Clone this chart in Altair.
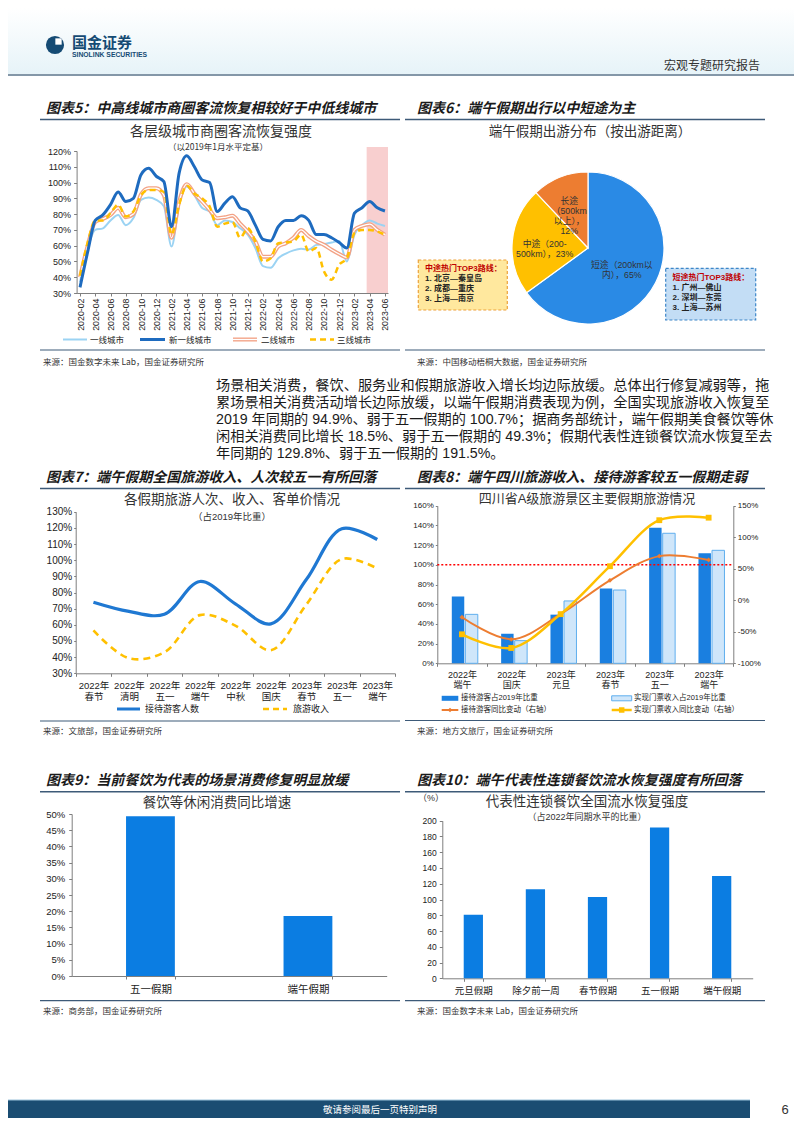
import altair as alt
import pandas as pd

W, H = 786, 1110
MARGIN = 8
CN = "Noto Sans CJK SC"
MIX = "Liberation Sans, Noto Sans CJK SC"
INK = "#222222"
AXC = "#7F7F7F"
RULEC = "#3D5A78"

# ---------------- data ----------------
# Chart 5
months = ["2020-02", "2020-03", "2020-04", "2020-05", "2020-06", "2020-07", "2020-08", "2020-09",
          "2020-10", "2020-11", "2020-12", "2021-01", "2021-02", "2021-03", "2021-04", "2021-05",
          "2021-06", "2021-07", "2021-08", "2021-09", "2021-10", "2021-11", "2021-12", "2022-01",
          "2022-02", "2022-03", "2022-04", "2022-05", "2022-06", "2022-07", "2022-08", "2022-09",
          "2022-10", "2022-11", "2022-12", "2023-01", "2023-02", "2023-03", "2023-04", "2023-05",
          "2023-06"]
tier1 = [37, 58, 70, 71, 76, 79.5, 73, 77.5, 89, 90.5, 89, 85, 59.5, 86, 97.5, 92, 84, 81.6, 73, 76,
         75, 71, 67, 58.5, 47, 46, 52, 55, 57, 58, 57.5, 60.5, 61, 62, 63, 50, 67, 73, 76, 74, 72.5]
new_tier1 = [33.6, 56, 76, 79.5, 86, 94, 88, 90, 105, 109, 104, 100.6, 72, 106, 117, 110, 101.7, 100,
             81.6, 87, 91, 84, 82, 73, 64, 63, 72, 76, 76, 79, 76, 67, 67, 65, 62, 58.5, 80.6, 84, 88,
             84, 82]
tier2 = [40, 60, 75, 77, 79.5, 84, 78, 80, 92.5, 96.4, 96.4, 92, 65, 88, 99, 93, 88, 82.7, 77.4, 78,
         79, 74, 69, 62.7, 53, 53, 59.5, 61.6, 65, 70, 66, 62.7, 60.5, 57.4, 54.7, 52.5, 70, 72.5,
         73.6, 70, 67]
tier3 = [41, 62, 76, 76, 80.6, 86, 78.5, 81.6, 92, 95.3, 95.3, 94, 67, 86, 98, 93, 90, 85, 72, 74, 75,
         65, 71, 62.7, 50, 52, 61.6, 62, 62.7, 67, 56.3, 58.5, 43.7, 38.4, 48, 52, 68, 70, 70, 69, 67]
shade_from, shade_to = 37.6, 40.4          # month-index span of the 2023 Q2 highlight
shade_low, shade_high = 30, 122.5

# Chart 6
dist_cat = ["短途", "中途", "长途"]
dist_share = [65, 23, 12]
dist_label = ["短途（200km以\n内），65%", "中途（200-\n500km），23%", "长途\n（500km\n以上），\n12%"]
mid_routes = ["中途热门TOP3路线：", "1. 北京—秦皇岛", "2. 成都—重庆", "3. 上海—南京"]
short_routes = ["短途热门TOP3路线：", "1. 广州—佛山", "2. 深圳—东莞", "3. 上海—苏州"]

# Paragraph
para = ["场景相关消费，餐饮、服务业和假期旅游收入增长均边际放缓。总体出行修复减弱等，拖",
        "累场景相关消费活动增长边际放缓，以端午假期消费表现为例，全国实现旅游收入恢复至",
        "2019 年同期的 94.9%、弱于五一假期的 100.7%；据商务部统计，端午假期美食餐饮等休",
        "闲相关消费同比增长 18.5%、弱于五一假期的 49.3%；假期代表性连锁餐饮流水恢复至去",
        "年同期的 129.8%、弱于五一假期的 191.5%。"]

# Chart 7
holidays7 = ["2022年春节", "2022年清明", "2022年五一", "2022年端午", "2022年中秋", "2022年国庆",
             "2023年春节", "2023年五一", "2023年端午"]
visitors7 = [74.0, 68.3, 66.5, 86.8, 73.0, 60.6, 88.0, 119.5, 112.8]
revenue7 = [56.5, 39.3, 43.0, 66.0, 59.5, 44.3, 72.5, 100.7, 94.9]

# Chart 8
holidays8 = ["2022年端午", "2022年国庆", "2023年元旦", "2023年春节", "2023年五一", "2023年端午"]
series8 = ["接待游客占2019年比重", "实现门票收入占2019年比重"]
visitors_share8 = [67.7, 30.0, 49.4, 76.0, 137.7, 111.6]
ticket_share8 = [49.7, 23.0, 63.3, 74.4, 132.0, 114.7]
visitors_yoy8 = [-27, -62, -22, 31.6, 70, 64]
ticket_yoy8 = [-54, -75.7, -22, 54, 127, 131]
ref_level8 = [100]

# Chart 9
cats9 = ["五一假期", "端午假期"]
vals9 = [49.3, 18.5]

# Chart 10
cats10 = ["元旦假期", "除夕前一周", "春节假期", "五一假期", "端午假期"]
vals10 = [80.8, 112.9, 103.2, 191.5, 129.8]


# ---------------- helpers ----------------
def P(v):
    return v - MARGIN


ONE = pd.DataFrame({"k": [0]})


def T(s, x, y, size=9.0, color=INK, align="left", bold=False, italic=False, font=CN, lh=None):
    kw = dict(align=align, baseline="middle", fontSize=size, color=color, font=font)
    if bold:
        kw["fontWeight"] = "bold"
    if italic:
        kw["fontStyle"] = "italic"
    if "\n" in s:
        kw["lineBreak"] = "\n"
        kw["lineHeight"] = lh or size * 1.2
    return alt.Chart(pd.DataFrame({"t": [s]})).mark_text(**kw).encode(
        x=alt.value(P(x)), y=alt.value(P(y)), text="t:N")


def R(x1, x2, y, color, w=1.0, dash=None):
    kw = dict(color=color, strokeWidth=w)
    if dash:
        kw["strokeDash"] = dash
    return alt.Chart(ONE).mark_rule(**kw).encode(
        x=alt.value(P(x1)), x2=alt.value(P(x2)), y=alt.value(P(y)))


def B(x1, y1, x2, y2, fill, stroke=None, dash=None, w=1.0):
    kw = dict(fill=fill)
    if stroke:
        kw["stroke"] = stroke
        kw["strokeWidth"] = w
    if dash:
        kw["strokeDash"] = dash
    return alt.Chart(ONE).mark_rect(**kw).encode(
        x=alt.value(P(x1)), x2=alt.value(P(x2)), y=alt.value(P(y1)), y2=alt.value(P(y2)))


def PT(x, y, shape, size, color):
    return alt.Chart(ONE).mark_point(shape=shape, size=size, filled=True, color=color,
                                     opacity=1).encode(x=alt.value(P(x)), y=alt.value(P(y)))


def lin(domain, r0, r1):
    return alt.Scale(domain=domain, range=[r0, r1], nice=False, zero=False)


def ax_left(xpos, values, expr, size, pad, tick=3):
    return alt.Axis(orient="left", offset=-P(xpos), values=values, labelExpr=expr,
                    labelFont=MIX, labelFontSize=size, labelColor=INK, labelPadding=pad,
                    domainColor=AXC, tickColor=AXC, tickSize=tick, grid=False,
                    labelFlush=False, labelOverlap=False, title=None)


def ax_right(xpos, values, expr, size, pad, tick=3):
    return alt.Axis(orient="right", offset=P(xpos) - W, values=values, labelExpr=expr,
                    labelFont=MIX, labelFontSize=size, labelColor=INK, labelPadding=pad,
                    domainColor=AXC, tickColor=AXC, tickSize=tick, grid=False,
                    labelFlush=False, labelOverlap=False, title=None)


def ax_bottom(ypos, size, pad, tick=3, font=MIX, angle=0, **kw):
    return alt.Axis(orient="bottom", offset=P(ypos) - H, labelFont=font, labelFontSize=size,
                    labelColor=INK, labelPadding=pad, domainColor=AXC, tickColor=AXC,
                    tickSize=tick, grid=False, labelFlush=False, labelOverlap=False,
                    labelAngle=angle, title=None, **kw)


layers = []

# ---------------- header ----------------
grad = alt.LinearGradient(gradient="linear", x1=0, y1=0, x2=0, y2=1,
                          stops=[alt.GradientStop(color="#FFFFFF", offset=0),
                                 alt.GradientStop(color="#E6F3F8", offset=1)])
layers.append(B(8, 8, 794, 75, grad))
layers.append(R(8, 794, 75, "#8497A8", 2))
layers.append(PT(55, 45, "circle", 330, "#154B74"))
layers.append(PT(58.5, 41.5, "square", 40, "#FFFFFF"))
layers.append(T("国金证券", 72, 43, 15, "#154B74", bold=True))
layers.append(T("SINOLINK SECURITIES", 72, 54.5, 6.8, "#154B74", bold=True, font="Liberation Sans"))
layers.append(T("宏观专题研究报告", 760, 66, 12, "#333333", align="right"))

# ---------------- chart 5 ----------------
sx5 = lin([-0.45, 40.4], P(76.6), P(388))
sy5 = lin([30, 120], P(293), P(151))
month_expr = "[" + ",".join("'%s'" % m for m in months) + "][datum.value]"
ax5x = ax_bottom(293, 8.8, 2, tick=3, angle=-90, values=list(range(0, len(months), 2)),
                 labelExpr=month_expr, labelAlign="right", labelBaseline="middle")
ax5y = ax_left(76.6, list(range(30, 121, 10)), "datum.value + '%'", 9, 3)

layers.append(T("图表5：中高线城市商圈客流恢复相较好于中低线城市", 46, 108.5, 14, "#1A1A1A",
                bold=True, italic=True))
layers.append(R(40, 400, 119.5, RULEC, 1.5))
layers.append(T("各层级城市商圈客流恢复强度", 221, 131.5, 14, "#333333", align="center"))
layers.append(T("（以2019年1月水平定基）", 218, 147, 8.5, "#333333", align="center"))

shade_df = pd.DataFrame({"s": [shade_from], "e": [shade_to], "lo": [shade_low], "hi": [shade_high]})
layers.append(alt.Chart(shade_df).mark_rect(color="#F8CFCF").encode(
    x=alt.X("s:Q", scale=sx5, axis=None), x2="e:Q",
    y=alt.Y("lo:Q", scale=sy5, axis=None), y2="hi:Q"))


def line5(vals, axes=False, **mk):
    df = pd.DataFrame({"i": list(range(len(months))), "v": vals})
    return alt.Chart(df).mark_line(interpolate="monotone", **mk).encode(
        x=alt.X("i:Q", scale=sx5, axis=ax5x if axes else None),
        y=alt.Y("v:Q", scale=sy5, axis=ax5y if axes else None))


layers.append(line5(tier1, axes=True, color="#9BD3F3", strokeWidth=2))
layers.append(line5(tier2, color="#F3A285", strokeWidth=4))
layers.append(line5(tier2, color="#FFFFFF", strokeWidth=1.3))
layers.append(line5(tier3, color="#FFC000", strokeWidth=2.5, strokeDash=[6, 4]))
layers.append(line5(new_tier1, color="#1E6BBF", strokeWidth=3))

# legend 5
layers.append(R(63, 87, 339.5, "#9BD3F3", 2))
layers.append(T("一线城市", 90, 339.5, 8.5))
layers.append(R(140, 165, 339.5, "#1E6BBF", 3))
layers.append(T("新一线城市", 169, 339.5, 8.5))
layers.append(R(233, 257, 339.5, "#F3A285", 4))
layers.append(R(233, 257, 339.5, "#FFFFFF", 1.3))
layers.append(T("二线城市", 261, 339.5, 8.5))
layers.append(R(310, 334, 339.5, "#FFC000", 2.5, [6, 4]))
layers.append(T("三线城市", 337, 339.5, 8.5))
layers.append(R(40, 400, 350, RULEC, 1.2))
layers.append(T("来源：国金数字未来 Lab，国金证券研究所", 43, 362, 8.5, "#333333"))

# ---------------- chart 6 ----------------
layers.append(T("图表6：端午假期出行以中短途为主", 417, 108.5, 14, "#1A1A1A", bold=True, italic=True))
layers.append(R(405, 765, 119.5, RULEC, 1.5))
layers.append(T("端午假期出游分布（按出游距离）", 590, 131.5, 13.5, "#333333", align="center"))

df6 = pd.DataFrame({"cat": dist_cat, "share": dist_share, "label": dist_label,
                    "ord": list(range(len(dist_cat)))})
theta_scale = alt.Scale(domain=[0, 100], range=[0, 6.283185307179586])
layers.append(alt.Chart(df6).mark_arc(outerRadius=76, stroke="#FFFFFF", strokeWidth=1.2).encode(
    theta=alt.Theta("share:Q", stack=True, scale=theta_scale),
    color=alt.Color("cat:N", scale=alt.Scale(domain=dist_cat, range=["#2A8AE5", "#FFC000", "#ED7D31"]),
                    legend=None),
    order=alt.Order("ord:Q", sort="ascending"),
    x=alt.value(P(588)), y=alt.value(P(248))))

for cat, rad in zip(dist_cat, [38, 43.5, 51]):
    layers.append(alt.Chart(df6).transform_window(
        cum="sum(share)", sort=[alt.SortField("ord")], frame=[None, 0]
    ).transform_calculate(mid="datum.cum - datum.share / 2").transform_filter(
        alt.datum.cat == cat
    ).mark_text(radius=rad, fontSize=8.8, lineBreak="\n", lineHeight=10, color="#333333",
                font=MIX, align="center", baseline="middle").encode(
        theta=alt.Theta("mid:Q", stack=None, scale=theta_scale),
        text="label:N", x=alt.value(P(588)), y=alt.value(P(248))))

layers.append(B(418.3, 260, 507.3, 310, "#FFE89E", "#EDA23B", [3, 2], 1.2))
for k, (s, yy) in enumerate(zip(mid_routes, [269, 279.3, 289.3, 299.3])):
    layers.append(T(s, 425, yy, 8, "#C00000" if k == 0 else INK, bold=True, font=MIX))
layers.append(B(665.7, 268.3, 755.7, 320, "#C3DDF5", "#3C86C8", [3, 2], 1.2))
for k, (s, yy) in enumerate(zip(short_routes, [277.7, 287.7, 297.7, 308.3])):
    layers.append(T(s, 672.5, yy, 8, "#C00000" if k == 0 else INK, bold=True, font=MIX))

layers.append(R(405, 765, 350, RULEC, 1.2))
layers.append(T("来源：中国移动梧桐大数据，国金证券研究所", 417, 362, 8.5, "#333333"))

# ---------------- paragraph ----------------
for s, yy in zip(para, [386, 403, 420, 437, 454]):
    layers.append(T(s, 216, yy, 14.2, "#1A1A1A", font=MIX))

# ---------------- chart 7 ----------------
layers.append(T("图表7：端午假期全国旅游收入、人次较五一有所回落", 46, 478, 14, "#1A1A1A",
                bold=True, italic=True))
layers.append(R(40, 400, 488.5, RULEC, 1.5))
layers.append(T("各假期旅游人次、收入、客单价情况", 232, 500, 13.5, "#333333", align="center"))
layers.append(T("（占2019年比重）", 232, 517, 9.5, "#333333", align="center", font=MIX))

sx7 = alt.Scale(type="band", domain=holidays7, range=[P(75.7), P(395)], paddingInner=0, paddingOuter=0)
sy7 = lin([30, 130], P(673.3), P(511.7))
two_line = "[slice(datum.label, 0, 5), slice(datum.label, 5)]"
ax7x = ax_bottom(673.3, 9.5, 4, tick=3, labelExpr=two_line, labelLineHeight=11.5, tickBand="extent")
ax7y = ax_left(75.7, list(range(30, 131, 10)), "datum.value + '%'", 10, 2, tick=2)
df7 = pd.DataFrame({"h": holidays7, "vis": visitors7, "rev": revenue7})
layers.append(alt.Chart(df7).mark_line(interpolate="catmull-rom", color="#FFC000", strokeWidth=2.6,
                                       strokeDash=[7, 5]).encode(
    x=alt.X("h:N", scale=sx7, axis=ax7x, sort=holidays7),
    y=alt.Y("rev:Q", scale=sy7, axis=ax7y)))
layers.append(alt.Chart(df7).mark_line(interpolate="catmull-rom", color="#1F78D2", strokeWidth=3.2).encode(
    x=alt.X("h:N", scale=sx7, axis=None, sort=holidays7),
    y=alt.Y("vis:Q", scale=sy7, axis=None)))
layers.append(R(117, 140, 709, "#1F78D2", 3))
layers.append(T("接待游客人数", 145, 709, 9))
layers.append(R(263, 287, 709, "#FFC000", 2.5, [6, 4]))
layers.append(T("旅游收入", 293, 709, 9))
layers.append(R(40, 400, 721, RULEC, 1.2))
layers.append(T("来源：文旅部，国金证券研究所", 43, 730.5, 8.5, "#333333"))

# ---------------- chart 8 ----------------
layers.append(T("图表8：端午四川旅游收入、接待游客较五一假期走弱", 417, 478, 14, "#1A1A1A",
                bold=True, italic=True))
layers.append(R(405, 765, 488.5, RULEC, 1.5))
layers.append(T("四川省A级旅游景区主要假期旅游情况", 587, 498.5, 13, "#333333", align="center", font=MIX))

sx8 = alt.Scale(type="band", domain=holidays8, range=[P(437.3), P(733.3)], paddingInner=0, paddingOuter=0)
syl8 = lin([0, 160], P(663.3), P(505.7))
syr8 = lin([-100, 150], P(663.3), P(505.7))
so8 = alt.Scale(domain=series8, range=[14.5, 40.5], paddingInner=0.08, paddingOuter=0)
ax8x = ax_bottom(663.3, 9, 4, tick=3, labelExpr=two_line, labelLineHeight=10.5, tickBand="extent")
ax8l = ax_left(437.3, list(range(0, 161, 20)), "datum.value + '%'", 8, 2, tick=2)
ax8r = ax_right(733.3, list(range(-100, 151, 50)), "datum.value + '%'", 8, 2, tick=2)

df8a = pd.DataFrame({"h": holidays8, "s": series8[0], "v": visitors_share8})
df8b = pd.DataFrame({"h": holidays8, "s": series8[1], "v": ticket_share8})
layers.append(alt.Chart(df8a).mark_bar(color="#1A7FE0").encode(
    x=alt.X("h:N", scale=sx8, axis=ax8x, sort=holidays8),
    xOffset=alt.XOffset("s:N", scale=so8),
    y=alt.Y("v:Q", scale=syl8, axis=ax8l)))
layers.append(alt.Chart(df8b).mark_bar(fill="#CFE6FA", stroke="#5FAEEE", strokeWidth=1).encode(
    x=alt.X("h:N", scale=sx8, axis=None, sort=holidays8),
    xOffset=alt.XOffset("s:N", scale=so8),
    y=alt.Y("v:Q", scale=syl8, axis=None)))
layers.append(alt.Chart(pd.DataFrame({"v": ref_level8})).mark_rule(
    color="#FF0000", strokeWidth=1.4, strokeDash=[2, 2]).encode(
    y=alt.Y("v:Q", scale=syl8, axis=None), x=alt.value(P(437.3)), x2=alt.value(P(733.3))))
df8c = pd.DataFrame({"h": holidays8, "v": visitors_yoy8})
df8d = pd.DataFrame({"h": holidays8, "v": ticket_yoy8})
layers.append(alt.Chart(df8c).mark_line(
    interpolate="catmull-rom", color="#ED7D31", strokeWidth=2,
    point=alt.OverlayMarkDef(shape="diamond", size=24, filled=True, color="#ED7D31")).encode(
    x=alt.X("h:N", scale=sx8, axis=None, sort=holidays8),
    y=alt.Y("v:Q", scale=syr8, axis=ax8r)))
layers.append(alt.Chart(df8d).mark_line(
    interpolate="catmull-rom", color="#FFC000", strokeWidth=2.5,
    point=alt.OverlayMarkDef(shape="square", size=34, filled=True, color="#FFC000")).encode(
    x=alt.X("h:N", scale=sx8, axis=None, sort=holidays8),
    y=alt.Y("v:Q", scale=syr8, axis=None)))

# legend 8
layers.append(B(441.7, 695.8, 458.3, 700.8, "#1A7FE0"))
layers.append(T(series8[0], 461, 698.3, 7.5, font=MIX))
layers.append(B(611.7, 695.8, 631.7, 700.8, "#CFE6FA", "#5FAEEE", None, 1))
layers.append(T(series8[1], 634, 698.3, 7.5, font=MIX))
layers.append(R(441.7, 458.3, 710, "#ED7D31", 2))
layers.append(PT(450, 710, "diamond", 22, "#ED7D31"))
layers.append(T("接待游客同比变动（右轴）", 461, 710, 7.5, font=MIX))
layers.append(R(611.7, 631.7, 710, "#FFC000", 2.5))
layers.append(PT(621.7, 710, "square", 30, "#FFC000"))
layers.append(T("实现门票收入同比变动（右轴）", 634, 710, 7.5, font=MIX))
layers.append(R(405, 765, 720.5, RULEC, 1.2))
layers.append(T("来源：地方文旅厅，国金证券研究所", 417, 730.5, 8.5, "#333333"))

# ---------------- chart 9 ----------------
layers.append(T("图表9：当前餐饮为代表的场景消费修复明显放缓", 46, 780.7, 14, "#1A1A1A",
                bold=True, italic=True))
layers.append(R(40, 400, 791.7, RULEC, 1.5))
layers.append(T("餐饮等休闲消费同比增速", 217, 802.7, 13.5, "#333333", align="center"))
sx9 = alt.Scale(type="band", domain=cats9, range=[P(71.7), P(386.7)], paddingInner=0.69, paddingOuter=0.345)
sy9 = lin([0, 50], P(976), P(814))
df9 = pd.DataFrame({"c": cats9, "v": vals9})
layers.append(alt.Chart(df9).mark_bar(color="#0B7DE2").encode(
    x=alt.X("c:N", scale=sx9, sort=cats9, axis=ax_bottom(976, 10.5, 5, tick=3, font=CN, tickBand="extent")),
    y=alt.Y("v:Q", scale=sy9, axis=ax_left(71.7, list(range(0, 51, 5)), "datum.value + '%'", 9.5, 4))))
layers.append(R(40, 400, 1000.7, RULEC, 1.2))
layers.append(T("来源：商务部，国金证券研究所", 43, 1010.7, 8.5, "#333333"))

# ---------------- chart 10 ----------------
layers.append(T("图表10：端午代表性连锁餐饮流水恢复强度有所回落", 417, 780.7, 14, "#1A1A1A",
                bold=True, italic=True))
layers.append(R(405, 765, 791.7, RULEC, 1.5))
layers.append(T("（%）", 418, 797.7, 9, "#333333", font=MIX))
layers.append(T("代表性连锁餐饮全国流水恢复强度", 587, 801.7, 13.5, "#333333", align="center"))
layers.append(T("（占2022年同期水平的比重）", 587, 816.7, 9, "#333333", align="center", font=MIX))
sx10 = alt.Scale(type="band", domain=cats10, range=[P(442.3), P(752.7)], paddingInner=0.69,
                 paddingOuter=0.345)
sy10 = lin([0, 200], P(978.3), P(820.7))
df10 = pd.DataFrame({"c": cats10, "v": vals10})
layers.append(alt.Chart(df10).mark_bar(color="#0B7DE2").encode(
    x=alt.X("c:N", scale=sx10, sort=cats10, axis=ax_bottom(978.3, 9.5, 4, tick=3, font=CN, tickBand="extent")),
    y=alt.Y("v:Q", scale=sy10, axis=ax_left(442.3, list(range(0, 201, 20)), "datum.value", 8.5, 3))))
layers.append(R(405, 765, 1000.7, RULEC, 1.2))
layers.append(T("来源：国金数字未来 Lab，国金证券研究所", 417, 1010.7, 8.5, "#333333"))

# ---------------- footer ----------------
layers.append(B(8, 1100, 750, 1118, "#1B4D72"))
layers.append(R(8, 750, 1100, "#9CC3DA", 1))
layers.append(T("敬请参阅最后一页特别声明", 380, 1109.5, 9.5, "#FFFFFF", align="center"))
layers.append(T("6", 785, 1109.5, 13, "#333333", align="center", font="Liberation Sans"))

chart = alt.layer(*layers).resolve_scale(
    x="independent", y="independent", theta="independent", color="independent"
).properties(
    width=W, height=H, padding=0, autosize=alt.AutoSizeParams(type="none")
).configure_view(stroke=None)

chart.save("out.html", embed_options={"renderer": "svg", "actions": False})
